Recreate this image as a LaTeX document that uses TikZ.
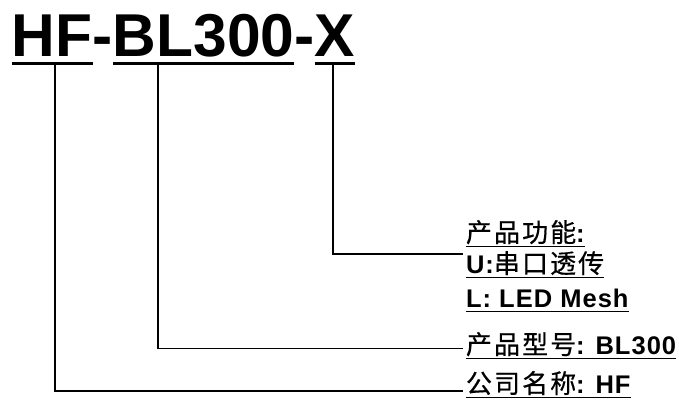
\documentclass[tikz,border=0pt]{standalone}
\usepackage{fontspec}
\setmainfont{Liberation Sans}
\newfontfamily\lblfont{Liberation Sans}[LetterSpace=4]
\newfontfamily\cjkfont{Noto Sans CJK SC}[LetterSpace=8, FakeBold=0.5]
\newcommand\zh[1]{{\cjkfont\fontsize{26}{28}\selectfont\mdseries #1}}
\tikzset{
  titletext/.style={anchor=base west, inner sep=0pt, outer sep=0pt, font=\fontsize{60.5}{62}\selectfont\bfseries},
  lbl/.style={anchor=base west, inner sep=0pt, outer sep=0pt, font=\lblfont\fontsize{25.5}{27}\selectfont\bfseries},
  conn/.style={line width=1.7pt, black},
  ulT/.style={line width=3pt, black},
  ulL/.style={line width=1.8pt, black},
}
\begin{document}
\begin{tikzpicture}[x=1pt, y=1pt]
\useasboundingbox (0,0) rectangle (679,-403);
% title
\node[titletext] (hf) at (12,-57) {HF};
\node[titletext] (d1) at (hf.base east) {-};
\node[titletext] (bl) at (d1.base east) {BL300};
\node[titletext] (d2) at (bl.base east) {-};
\node[titletext] (xx) at (d2.base east) {X};
\foreach \n in {hf, bl, xx}
  \draw[ulT] ([yshift=-7]\n.base west) -- ([yshift=-7]\n.base east);
% labels
\node[lbl] (func) at (466,-242) {\zh{产品功能}:~};
\node[lbl] (funcU) at (466,-273) {U:\zh{串口透传}};
\node[lbl] (funcL) at (466,-307) {L: LED Mesh~};
\node[lbl] (model) at (466,-354) {\zh{产品型号}: BL300};
\node[lbl] (company) at (466,-393) {\zh{公司名称}: HF};
\foreach \n in {func, funcU, funcL, model, company}
  \draw[ulL] ([yshift=-4.5]\n.base west) -- ([yshift=-4.5]\n.base east);
% connectors
\coordinate (hfT) at (55,-64);
\coordinate (blT) at (158,-64);
\coordinate (xT) at (333,-64);
\draw[conn] (hfT) |- ([shift={(-3,2)}]company.base west);
\draw[conn] (blT) |- ([shift={(-3,5.5)}]model.base west);
\draw[conn] (xT) |- ([shift={(-3,-12)}]func.base west);
\end{tikzpicture}
\end{document}
